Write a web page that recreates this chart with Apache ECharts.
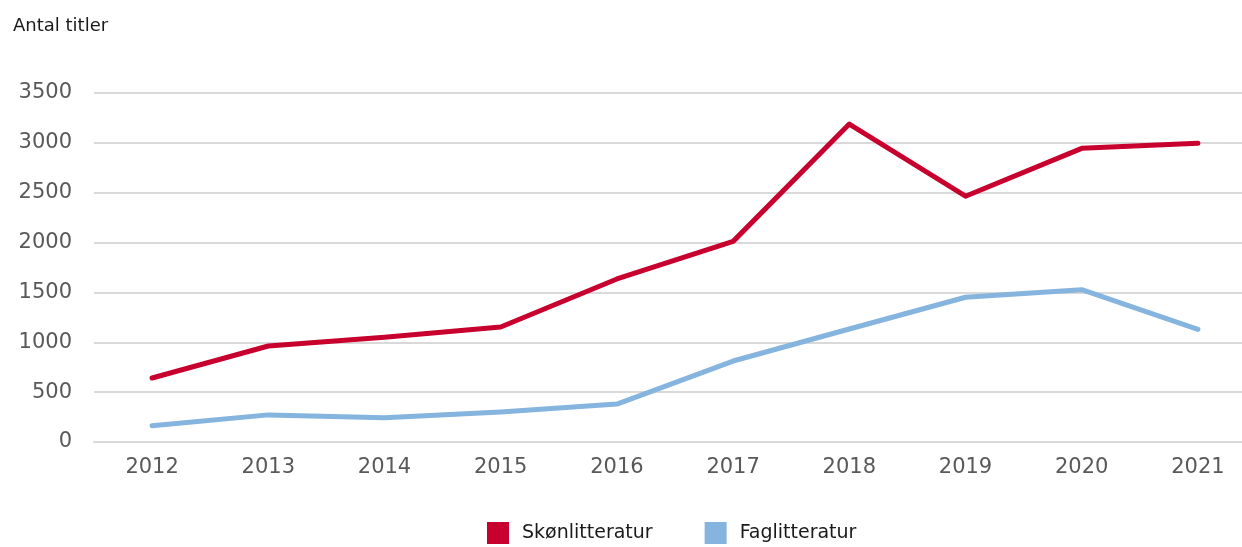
<!DOCTYPE html>
<html><head><meta charset="utf-8">
<script src="https://cdn.jsdelivr.net/npm/echarts@6/dist/echarts.min.js"></script>
<style>html,body{margin:0;padding:0;background:#fff;overflow:hidden}#c{width:1256px;height:547px}</style>
</head><body><div id="c"></div>
<script>
const years = ['2012','2013','2014','2015','2016','2017','2018','2019','2020','2021'];
const skonlitteratur = [642, 963, 1050, 1153, 1635, 2012, 3188, 2465, 2945, 2997];
const faglitteratur = [162, 272, 243, 300, 380, 812, 1133, 1452, 1527, 1130];
const yTitle = 'Antal titler';
const seriesNames = ['Skønlitteratur', 'Faglitteratur'];
const colors = ['#C8002D', '#85B4DE'];

const chart = echarts.init(document.getElementById('c'), null, {renderer: 'canvas'});
chart.setOption({
  animation: false,
  color: colors,
  title: {text: yTitle, left: 8, top: 12, textStyle: {fontFamily: 'DejaVu Sans', fontSize: 18, fontWeight: 'normal', color: '#1a1a1a'}},
  legend: {
    bottom: 3, left: 487, padding: 0, itemWidth: 22, itemHeight: 22, itemGap: 52,
    icon: 'rect',
    textStyle: {fontFamily: 'DejaVu Sans', fontSize: 19, color: '#1a1a1a', padding: [0,0,0,8]},
    data: seriesNames
  },
  grid: {left: 94, right: 0, top: 93, bottom: 105},
  xAxis: {
    type: 'category', data: years, boundaryGap: true,
    axisLine: {show: true, lineStyle: {color: '#d9d9d9', width: 2}},
    axisTick: {show: false},
    axisLabel: {fontFamily: 'DejaVu Sans', fontSize: 21, color: '#595959', margin: 15}
  },
  yAxis: {
    type: 'value', min: 0, max: 3500, interval: 500,
    axisLine: {show: false}, axisTick: {show: false},
    splitLine: {lineStyle: {color: '#d9d9d9', width: 2}},
    axisLabel: {fontFamily: 'DejaVu Sans', fontSize: 21, color: '#595959', margin: 22, formatter: v => String(v)}
  },
  series: [
    {name: seriesNames[0], type: 'line', data: skonlitteratur, symbol: 'none', lineStyle: {width: 5, cap: 'round', join: 'round'}},
    {name: seriesNames[1], type: 'line', data: faglitteratur, symbol: 'none', lineStyle: {width: 5, cap: 'round', join: 'round'}}
  ]
});
</script></body></html>
